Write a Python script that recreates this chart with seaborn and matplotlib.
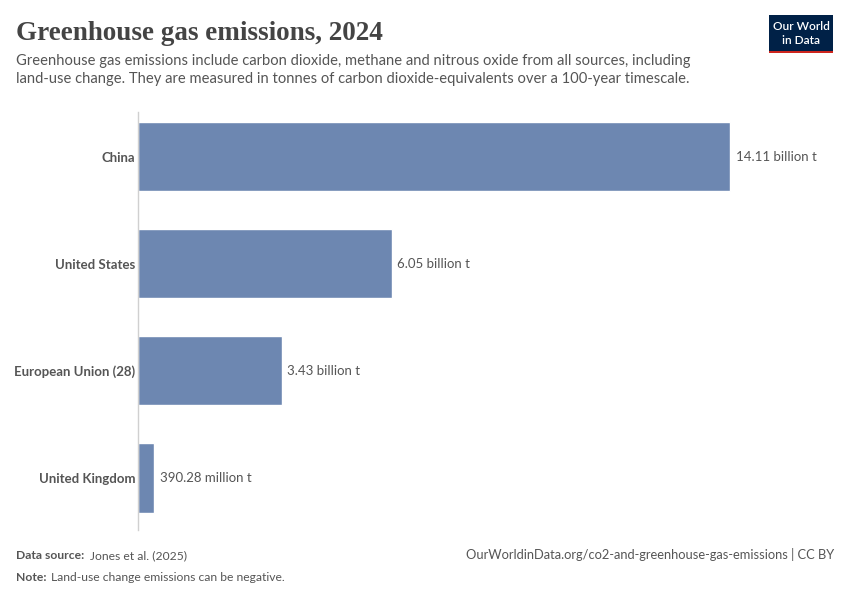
import matplotlib
matplotlib.use("Agg")
import matplotlib.pyplot as plt
import seaborn as sns
import pandas as pd
from matplotlib.patches import Rectangle

countries = ["China", "United States", "European Union (28)", "United Kingdom"]
emissions_bn = [14.11, 6.05, 3.43, 0.39028]
value_labels = ["14.11 billion t", "6.05 billion t", "3.43 billion t", "390.28 million t"]

sns.set_theme(style="white")
plt.rcParams['font.family'] = ['Lato', 'DejaVu Sans']

df = pd.DataFrame({"country": countries, "value": emissions_bn})

fig = plt.figure(figsize=(8.5, 6), dpi=100)
ax = fig.add_axes([138/850, 70/600, 692/850, 418/600])
sns.barplot(data=df, y="country", x="value", orient="h", color="#6d87b1",
            saturation=1, width=0.645, ax=ax)
ax.set_xlim(0, 692/41.96)
ax.set_ylim(3.486, -0.42)
for s in ["top", "right", "bottom"]:
    ax.spines[s].set_visible(False)
ax.spines["left"].set_color("#d0d0d0")
ax.spines["left"].set_linewidth(1)
ax.set_xticks([])
ax.set_xlabel("")
ax.set_ylabel("")
ax.tick_params(axis="y", length=0, pad=2)
for lab in ax.get_yticklabels():
    lab.set_fontweight("bold")
    lab.set_fontsize(9.5)
    lab.set_color("#555555")

for i, (v, t) in enumerate(zip(emissions_bn, value_labels)):
    ax.text(v + 0.13, i, t, va="center", ha="left", fontsize=9.5, color="#555555")

fig.text(16/850, 1 - 40/600, "Greenhouse gas emissions, 2024", fontsize=19.5, fontweight="bold",
         family=["Liberation Serif", "DejaVu Serif"], color="#444444", va="baseline")
fig.text(16/850, 1 - 65/600,
         "Greenhouse gas emissions include carbon dioxide, methane and nitrous oxide from all sources, including",
         fontsize=10.6, color="#555555", va="baseline")
fig.text(16/850, 1 - 83/600,
         "land-use change. They are measured in tonnes of carbon dioxide-equivalents over a 100-year timescale.",
         fontsize=10.6, color="#555555", va="baseline")

# footer
fig.text(16/850, 1 - 559/600, "Data source:", fontsize=8.7, color="#555555", fontweight="bold", va="baseline")
fig.text(90/850, 1 - 559/600, "Jones et al. (2025)", fontsize=8.7, color="#555555", va="baseline")
fig.text(16/850, 1 - 581/600, "Note:", fontsize=8.7, color="#555555", fontweight="bold", va="baseline")
fig.text(51/850, 1 - 581/600, "Land-use change emissions can be negative.", fontsize=8.7, color="#555555", va="baseline")
fig.text(834/850, 1 - 559/600, "OurWorldinData.org/co2-and-greenhouse-gas-emissions | CC BY",
         fontsize=9.3, color="#555555", ha="right", va="baseline")

# logo
fig.patches.append(Rectangle((769/850, 1 - 51/600), 64/850, 36/600, transform=fig.transFigure,
                             facecolor="#002147", edgecolor="none"))
fig.patches.append(Rectangle((769/850, 1 - 53/600), 64/850, 2.5/600, transform=fig.transFigure,
                             facecolor="#ce261e", edgecolor="none"))
fig.text(801/850, 1 - 27/600, "Our World", fontsize=8.6, color="white", ha="center", va="center",
         fontweight="semibold")
fig.text(801/850, 1 - 40/600, "in Data", fontsize=8.6, color="white", ha="center", va="center",
         fontweight="semibold")

fig.savefig("out.png", dpi=100)
